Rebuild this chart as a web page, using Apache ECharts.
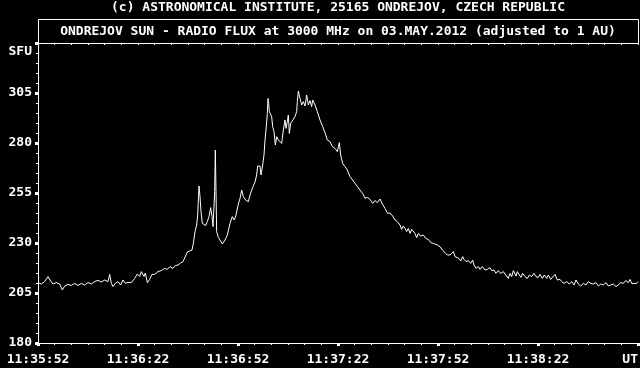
<!DOCTYPE html>
<html>
<head>
<meta charset="utf-8">
<script src="https://cdn.jsdelivr.net/npm/echarts@6/dist/echarts.min.js"></script>
<style>
html,body{margin:0;padding:0;background:#000;}
#chart{width:640px;height:368px;}
</style>
</head>
<body>
<div id="chart"></div>
<script>
// seconds after 11:35:52 UT
var seconds = [0,1.0,2.0,3.0,3.8,4.5,5.5,6.5,7.3,8.0,9.0,10.0,11.0,12.0,13.0,14.0,15.0,16.0,17.0,18.0,19.0,20.0,21.0,21.5,22.0,22.5,23.2,24.0,24.8,25.5,26.2,27.0,28.0,29.0,29.8,30.5,31.0,31.8,32.2,32.8,33.5,34.2,35.0,36.0,37.0,38.0,38.8,39.6,40.5,41.2,42.0,42.8,43.5,44.0,44.8,45.5,46.2,46.6,47.1,47.6,47.9,48.3,48.6,48.9,49.3,49.8,50.3,50.8,51.3,51.8,52.2,52.5,52.8,53.0,53.2,53.4,53.6,54.1,54.6,55.3,56.1,56.8,57.6,58.3,58.9,59.4,60.1,60.6,61.1,61.6,62.3,63.1,63.6,64.4,65.1,65.6,65.9,66.6,66.9,67.4,67.8,68.1,68.4,68.8,69.0,69.2,69.4,69.8,70.1,70.4,70.8,71.2,71.6,72.1,72.6,73.1,73.6,74.1,74.4,74.8,75.1,75.4,75.8,76.4,77.1,77.6,77.8,78.1,78.6,79.1,79.6,80.1,80.6,81.1,81.6,82.1,82.4,83.1,83.8,84.6,85.4,86.1,86.8,87.6,88.3,89.1,89.8,90.4,90.8,91.4,92.1,92.8,93.6,94.4,95.1,95.8,96.6,97.4,98.1,98.8,99.6,100.4,101.1,101.8,102.6,103.3,104.1,104.9,105.6,106.4,107.1,107.8,108.6,109.1,109.6,110.1,110.6,111.1,111.6,112.1,112.6,113.1,113.6,114.1,114.8,115.6,116.3,117.1,117.8,118.6,119.1,119.8,120.6,121.3,122.1,122.8,123.6,124.1,124.6,125.1,125.6,126.3,126.8,127.4,127.8,128.4,129.1,129.8,130.4,130.8,131.4,132.1,132.6,133.3,134.1,134.8,135.6,136.1,136.8,137.4,138.1,138.8,139.6,140.1,140.6,141.1,141.6,142.1,142.6,143.4,143.8,144.4,144.9,145.4,146.1,146.8,147.4,148.1,148.8,149.4,150.1,150.6,151.3,151.9,152.6,153.1,153.8,154.4,155.1,155.8,156.6,157.1,157.8,158.6,159.4,160.1,160.8,161.4,162.1,162.8,163.6,164.4,165.1,165.8,166.6,167.4,168.1,168.8,169.6,170.4,171.1,171.8,172.6,173.4,174.1,174.8,175.6,176.3,177.1,177.6,178.1,178.6,179.6,180.0];
// radio flux, SFU
var flux = [210.2,209.5,210.7,213.2,211,209.5,210.2,209.5,206.5,208.5,209.3,208.8,209.8,208.8,209.8,209,210.2,209.5,210.7,211.3,210.5,211.5,210.7,214.3,209.8,208.2,209.8,210.7,209,211.5,209.8,210.3,210.2,212.3,214.5,213.3,215.7,213.3,215,210.2,211.8,214.3,214.3,215.7,216.2,217.3,216.8,218.2,217.3,218.7,219,220,220.7,222.5,225.5,226,226.5,229.8,235.7,239,244,258.5,253.2,245.7,239.8,240.7,238.7,240.7,243.2,247.7,243.2,238.2,237.3,255.7,276.5,255.7,235.7,232.8,231.5,229.5,231.5,234,239.8,243.2,241.5,244,249.5,252.3,256.5,253.2,251.5,250.7,254,257.8,260.5,264,268.5,268.5,264,269,274,281.5,286.5,294.8,302.3,299.8,295.7,296.5,293.2,288.2,285.7,279,283.2,281.5,282.3,279.8,286.5,291.5,287.3,290.7,294,284.8,289.8,290.7,293.2,295.7,300.7,306,302.3,299,300.7,298.5,304,299,301.2,298.2,301.5,299,295.7,291.5,288.2,285.2,281.5,280.7,278.2,277.3,275.7,280.2,274,269.8,268.2,266.5,263.2,261.5,259.8,258.2,256.5,254.8,252.3,252.8,251.8,249.8,251.2,250.2,252,249.5,247.3,244.8,245,243.5,241.5,240.7,239,236.8,238.5,237.3,235.7,237.3,234.8,236.8,237.8,234.8,232.7,234.8,233.5,234,232.3,231.8,230.2,229.8,230.7,229,228.2,226.5,225.2,224,224,223.2,225.7,223.2,222.3,222.3,221,223.2,221.8,220.7,221.2,219.8,221.5,219,217.3,218.2,216.8,218.2,216.5,216.8,217.7,216.2,216.5,214.8,216.2,214.8,215.7,214.5,215.2,212.3,214.8,213.2,216.2,213.5,215.7,214,212.8,214.8,213.2,212.3,214,213.2,214.8,213.2,212.8,214.3,212.3,214,212.3,214,211.8,212.8,214.3,211.5,211.8,210.7,209.8,210.7,209.5,210.7,209,211.5,209.5,208.5,209.8,209,210.7,209.8,209.5,210.2,208.5,209.5,209,210.2,208.5,209,209.5,208.2,209,210.2,209.8,211.2,210.2,211.8,209.8,210.7,209.8,210.7];
var xTickLabels = ['11:35:52','11:36:22','11:36:52','11:37:22','11:37:52','11:38:22','UT'];
var yTickValues = [180,205,230,255,280,305];

var FONT = 'DejaVu Sans Mono';
var chart = echarts.init(document.getElementById('chart'), null, {renderer:'canvas'});
var textBase = {color:'#fff', fontFamily:FONT, fontWeight:'bold', fontSize:13};

chart.setOption({
  backgroundColor:'#000',
  animation:false,
  title:[
    {text:'(c) ASTRONOMICAL INSTITUTE, 25165 ONDREJOV, CZECH REPUBLIC', left:338, top:0, textAlign:'center', padding:0,
     textStyle:Object.assign({lineHeight:15}, textBase)},
    {text:'ONDREJOV SUN - RADIO FLUX at 3000 MHz on 03.MAY.2012 (adjusted to 1 AU)', left:338, top:24, textAlign:'center', padding:0,
     textStyle:Object.assign({lineHeight:15}, textBase)}
  ],
  graphic:[
    {type:'rect', shape:{x:38.5, y:19.5, width:600, height:24}, style:{fill:null, stroke:'#fff', lineWidth:1}, silent:true}
  ],
  grid:{left:38, right:2, top:43, bottom:25, containLabel:false, outerBoundsMode:'none'},
  xAxis:[
    {type:'value', min:0, max:180, interval:30, position:'bottom',
     axisLine:{show:true, lineStyle:{color:'#fff', width:1}},
     axisTick:{show:true, length:3, inside:false, lineStyle:{color:'#fff', width:3}},
     minorTick:{show:true, splitNumber:6, length:2, lineStyle:{color:'#fff', width:1}},
     splitLine:{show:false},
     axisLabel:Object.assign({margin:10, alignMaxLabel:'right',
       formatter:function(v){ var i=Math.round(v/30); return xTickLabels[i]!==undefined?xTickLabels[i]:''; }}, textBase)},
    {type:'value', min:0, max:180, interval:5, position:'top',
     axisLine:{show:true, lineStyle:{color:'#fff', width:1}},
     axisTick:{show:true, length:2, inside:true, lineStyle:{color:'#fff', width:1}},
     splitLine:{show:false}, axisLabel:{show:false}}
  ],
  yAxis:[
    {type:'value', min:180, max:330, interval:25, position:'left',
     name:'SFU', nameLocation:'end', nameGap:-9,
     nameTextStyle:Object.assign({align:'right', verticalAlign:'middle', padding:[0,6,0,0]}, textBase),
     axisLine:{show:true, lineStyle:{color:'#fff', width:1}},
     axisTick:{show:true, length:3, lineStyle:{color:'#fff', width:3}},
     minorTick:{show:true, splitNumber:5, length:2, lineStyle:{color:'#fff', width:1}},
     splitLine:{show:false},
     axisLabel:Object.assign({margin:6,
       formatter:function(v){ return yTickValues.indexOf(v)>=0 ? String(v) : ''; }}, textBase)},
    {type:'value', min:180, max:330, position:'right',
     axisLine:{show:true, lineStyle:{color:'#fff', width:1}},
     axisTick:{show:false}, axisLabel:{show:false}, splitLine:{show:false}}
  ],
  series:[
    {type:'line', xAxisIndex:0, yAxisIndex:0, showSymbol:false, symbol:'none',
     lineStyle:{color:'#fff', width:1}, data:seconds.map(function(t,i){return [t, flux[i]];})}
  ]
});
</script>
</body>
</html>
